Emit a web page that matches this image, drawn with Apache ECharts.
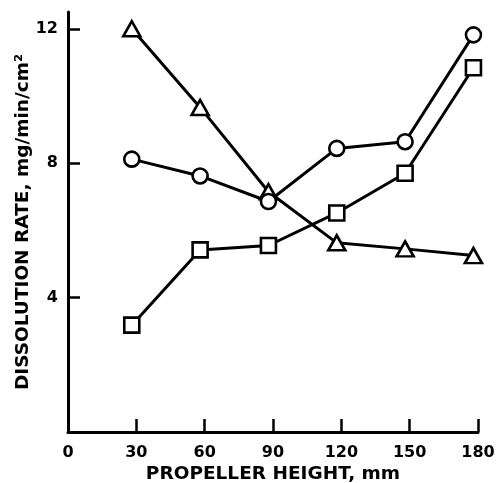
<!DOCTYPE html>
<html>
<head>
<meta charset="utf-8">
<script src="https://cdn.jsdelivr.net/npm/echarts@6/dist/echarts.min.js"></script>
<style>
  html, body { margin: 0; padding: 0; background: #fff; }
  #main { width: 498px; height: 483px; }
</style>
</head>
<body>
<div id="main"></div>
<script>
  // propeller heights where the points were measured (mm)
  var heights = [28, 58, 88, 118, 148, 178]
  var triangleRate = [12.0, 9.66, 7.15, 5.63, 5.45, 5.25]
  var circleRate = [8.12, 7.62, 6.86, 8.44, 8.64, 11.82]
  var squareRate = [3.18, 5.42, 5.55, 6.52, 7.7, 10.84]
  var xTicks = [0, 30, 60, 90, 120, 150, 180]
  var yTicks = [4, 8, 12]

  function pairs(vals) {
    return heights.map(function (h, i) { return [h, vals[i]] })
  }

  var font = '"DejaVu Sans", sans-serif'

  function line(name, symbol, size, vals) {
    return {
      name: name,
      type: 'line',
      symbol: symbol,
      symbolSize: size,
      lineStyle: { color: '#000', width: 3 },
      itemStyle: { color: '#fff', borderColor: '#000', borderWidth: 2.6 },
      data: pairs(vals),
      z: 3
    }
  }

  var chart = echarts.init(document.getElementById('main'))
  chart.setOption({
    backgroundColor: '#fff',
    animation: false,
    grid: { left: 68, right: 20, top: 12, bottom: 51, outerBoundsMode: 'none' },
    xAxis: {
      type: 'value',
      min: 0,
      max: 180,
      interval: 30,
      name: 'PROPELLER HEIGHT, mm',
      nameLocation: 'middle',
      nameGap: 33,
      nameMoveOverlap: false,
      nameTextStyle: { color: '#000', fontSize: 18.5, fontWeight: 'bold', fontFamily: font },
      axisLine: { lineStyle: { color: '#000', width: 3 } },
      axisTick: { inside: true, length: 13, customValues: xTicks.slice(1), lineStyle: { color: '#000', width: 2.5 } },
      axisLabel: { customValues: xTicks, color: '#000', fontSize: 16, fontWeight: 'bold', fontFamily: font, margin: 13 },
      splitLine: { show: false }
    },
    yAxis: {
      type: 'value',
      min: 0,
      max: 12.5,
      name: 'DISSOLUTION RATE, mg/min/cm²',
      nameLocation: 'middle',
      nameGap: 35,
      nameMoveOverlap: false,
      nameTextStyle: { color: '#000', fontSize: 18.5, fontWeight: 'bold', fontFamily: font },
      axisLine: { show: true, lineStyle: { color: '#000', width: 3 } },
      axisTick: { show: true, inside: true, length: 12, customValues: yTicks, lineStyle: { color: '#000', width: 2.5 } },
      axisLabel: { customValues: yTicks, color: '#000', fontSize: 16, fontWeight: 'bold', fontFamily: font, margin: 10 },
      splitLine: { show: false }
    },
    series: [
      line('triangle', 'triangle', [17, 15], triangleRate),
      line('circle', 'circle', 15, circleRate),
      line('square', 'rect', 15, squareRate)
    ]
  })
</script>
</body>
</html>
